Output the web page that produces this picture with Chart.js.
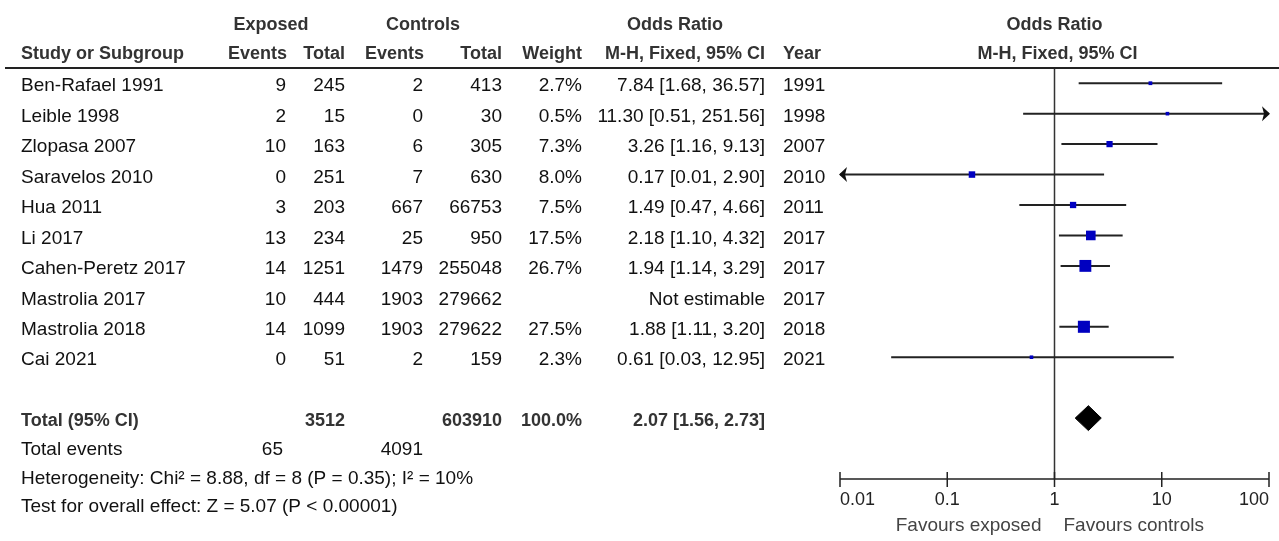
<!DOCTYPE html>
<html>
<head>
<meta charset="utf-8">
<script src="https://cdn.jsdelivr.net/npm/chart.js@4.4.0/dist/chart.umd.min.js"></script>
<style>
  html, body { margin: 0; padding: 0; background: #fff; }
  #wrap { position: relative; width: 1279px; height: 541px; }
</style>
</head>
<body>
<div id="wrap"><canvas id="forestChart" width="1279" height="541"></canvas></div>
<script>
// datos del forest plot
const studies = ['Ben-Rafael 1991', 'Leible 1998', 'Zlopasa 2007', 'Saravelos 2010', 'Hua 2011',
                 'Li 2017', 'Cahen-Peretz 2017', 'Mastrolia 2017', 'Mastrolia 2018', 'Cai 2021'];
const expEvents = [9, 2, 10, 0, 3, 13, 14, 10, 14, 0];
const expTotal = [245, 15, 163, 251, 203, 234, 1251, 444, 1099, 51];
const ctrlEvents = [2, 0, 6, 7, 667, 25, 1479, 1903, 1903, 2];
const ctrlTotal = [413, 30, 305, 630, 66753, 950, 255048, 279662, 279622, 159];
const weights = [2.7, 0.5, 7.3, 8.0, 7.5, 17.5, 26.7, null, 27.5, 2.3];
const oddsRatio = [7.84, 11.30, 3.26, 0.17, 1.49, 2.18, 1.94, null, 1.88, 0.61];
const ciLower = [1.68, 0.51, 1.16, 0.01, 0.47, 1.10, 1.14, null, 1.11, 0.03];
const ciUpper = [36.57, 251.56, 9.13, 2.90, 4.66, 4.32, 3.29, null, 3.20, 12.95];
const years = [1991, 1998, 2007, 2010, 2011, 2017, 2017, 2017, 2018, 2021];

const totalOR = 2.07;
const totalLower = 1.56;
const totalUpper = 2.73;
const totalExp = 3512;
const totalCtrl = 603910;
const totalWeight = 100.0;
const totalEventsExp = 65;
const totalEventsCtrl = 4091;
const heterogeneityText = 'Heterogeneity: Chi² = 8.88, df = 8 (P = 0.35); I² = 10%';
const overallText = 'Test for overall effect: Z = 5.07 (P < 0.00001)';

const xTicks = [0.01, 0.1, 1, 10, 100];

const FONT = '"Liberation Sans", Arial, sans-serif';
const TOTAL_ROW = 11;

function txt(ctx, s, x, y, align, bold, color) {
    ctx.font = bold ? 'bold 18px ' + FONT : '19px ' + FONT;
    ctx.textAlign = align;
    ctx.textBaseline = 'middle';
    ctx.fillStyle = color;
    ctx.fillText(s, x, y);
}

const fmt = v => v.toFixed(2);

// Tabla de la izquierda, cabeceras, eje y flechas
const forestPlugin = {
    id: 'forestPlugin',
    afterDatasetsDraw(chart) {
        const ctx = chart.ctx;
        const xs = chart.scales.x;
        const ys = chart.scales.y;
        const a = chart.chartArea;
        ctx.save();

        // flechas para IC fuera de rango
        ctx.fillStyle = '#111';
        studies.forEach((s, i) => {
            if (oddsRatio[i] == null) return;
            const py = ys.getPixelForValue(i);
            if (ciUpper[i] >= xs.max) {
                const px = xs.getPixelForValue(xs.max);
                ctx.beginPath();
                ctx.moveTo(px + 1, py);
                ctx.lineTo(px - 7, py - 7.5);
                ctx.lineTo(px - 5, py);
                ctx.lineTo(px - 7, py + 7.5);
                ctx.closePath();
                ctx.fill();
            }
            if (ciLower[i] <= xs.min) {
                const px = xs.getPixelForValue(xs.min);
                ctx.beginPath();
                ctx.moveTo(px - 1, py);
                ctx.lineTo(px + 7, py - 7.5);
                ctx.lineTo(px + 5, py);
                ctx.lineTo(px + 7, py + 7.5);
                ctx.closePath();
                ctx.fill();
            }
        });

        // linea de cabecera
        ctx.strokeStyle = '#222';
        ctx.lineWidth = 2;
        ctx.beginPath();
        ctx.moveTo(5, a.top);
        ctx.lineTo(chart.width, a.top);
        ctx.stroke();

        // eje x con marcas
        ctx.lineWidth = 1.5;
        ctx.beginPath();
        ctx.moveTo(a.left, a.bottom);
        ctx.lineTo(a.right, a.bottom);
        xTicks.forEach(v => {
            const px = xs.getPixelForValue(v);
            ctx.moveTo(px, a.bottom - 7);
            ctx.lineTo(px, a.bottom + 8);
        });
        ctx.stroke();
        ctx.restore();
    },
    afterDraw(chart) {
        const ctx = chart.ctx;
        const ys = chart.scales.y;
        const xs = chart.scales.x;
        const rowY = i => ys.getPixelForValue(i) + 3;
        const head = '#333';
        const body = '#111';
        ctx.save();

        // cabeceras
        txt(ctx, 'Exposed', 271, 25, 'center', true, head);
        txt(ctx, 'Controls', 423, 25, 'center', true, head);
        txt(ctx, 'Odds Ratio', 675, 25, 'center', true, head);
        txt(ctx, 'Odds Ratio', xs.getPixelForValue(1), 25, 'center', true, head);
        txt(ctx, 'Study or Subgroup', 21, 54, 'left', true, head);
        txt(ctx, 'Events', 287, 54, 'right', true, head);
        txt(ctx, 'Total', 345, 54, 'right', true, head);
        txt(ctx, 'Events', 424, 54, 'right', true, head);
        txt(ctx, 'Total', 502, 54, 'right', true, head);
        txt(ctx, 'Weight', 582, 54, 'right', true, head);
        txt(ctx, 'M-H, Fixed, 95% CI', 765, 54, 'right', true, head);
        txt(ctx, 'Year', 783, 54, 'left', true, head);
        txt(ctx, 'M-H, Fixed, 95% CI', xs.getPixelForValue(1) + 3, 54, 'center', true, head);

        // filas de estudios
        studies.forEach((s, i) => {
            const y = rowY(i);
            txt(ctx, s, 21, y, 'left', false, body);
            txt(ctx, String(expEvents[i]), 286, y, 'right', false, body);
            txt(ctx, String(expTotal[i]), 345, y, 'right', false, body);
            txt(ctx, String(ctrlEvents[i]), 423, y, 'right', false, body);
            txt(ctx, String(ctrlTotal[i]), 502, y, 'right', false, body);
            if (weights[i] != null) txt(ctx, weights[i].toFixed(1) + '%', 582, y, 'right', false, body);
            const orText = oddsRatio[i] == null ? 'Not estimable'
                : `${fmt(oddsRatio[i])} [${fmt(ciLower[i])}, ${fmt(ciUpper[i])}]`;
            txt(ctx, orText, 765, y, 'right', false, body);
            txt(ctx, String(years[i]), 783, y, 'left', false, body);
        });

        // fila total
        const ty = rowY(TOTAL_ROW);
        txt(ctx, 'Total (95% CI)', 21, ty, 'left', true, head);
        txt(ctx, String(totalExp), 345, ty, 'right', true, head);
        txt(ctx, String(totalCtrl), 502, ty, 'right', true, head);
        txt(ctx, totalWeight.toFixed(1) + '%', 582, ty, 'right', true, head);
        txt(ctx, `${fmt(totalOR)} [${fmt(totalLower)}, ${fmt(totalUpper)}]`, 765, ty, 'right', true, head);

        txt(ctx, 'Total events', 21, 450, 'left', false, body);
        txt(ctx, String(totalEventsExp), 283, 450, 'right', false, body);
        txt(ctx, String(totalEventsCtrl), 423, 450, 'right', false, body);
        txt(ctx, heterogeneityText, 21, 479, 'left', false, body);
        txt(ctx, overallText, 21, 507, 'left', false, body);

        // favours
        const x1 = xs.getPixelForValue(1);
        txt(ctx, 'Favours exposed', x1 - 13, 526, 'right', false, '#444');
        txt(ctx, 'Favours controls', x1 + 9, 526, 'left', false, '#444');
        ctx.restore();
    }
};

// datasets
const datasets = [];

// cuadrados (tamaño según peso)
const estIdx = studies.map((s, i) => i).filter(i => oddsRatio[i] != null);
datasets.push({
    type: 'scatter',
    order: 0,
    data: estIdx.map(i => ({ x: oddsRatio[i], y: i })),
    pointStyle: 'rect',
    pointRadius: estIdx.map(i => Math.max(3.6, 2.3 * Math.sqrt(weights[i])) / Math.SQRT2),
    backgroundColor: '#0000C0',
    borderWidth: 0
});

// intervalos de confianza
estIdx.forEach(i => {
    datasets.push({
        type: 'scatter',
        order: 2,
        showLine: true,
        data: [{ x: ciLower[i], y: i }, { x: ciUpper[i], y: i }],
        borderColor: '#222',
        borderWidth: 2,
        pointRadius: 0
    });
});

// rombo del total
datasets.push({
    type: 'scatter',
    order: 1,
    showLine: true,
    data: [
        { x: totalLower, y: TOTAL_ROW },
        { x: totalOR, y: TOTAL_ROW - 0.41 },
        { x: totalUpper, y: TOTAL_ROW },
        { x: totalOR, y: TOTAL_ROW + 0.41 },
        { x: totalLower, y: TOTAL_ROW }
    ],
    borderColor: '#000',
    borderWidth: 1,
    backgroundColor: '#000',
    fill: 'shape',
    pointRadius: 0
});

// linea vertical en 1
datasets.push({
    type: 'scatter',
    order: 3,
    showLine: true,
    data: [{ x: 1, y: -0.5 }, { x: 1, y: 13 }],
    borderColor: '#333',
    borderWidth: 1.5,
    pointRadius: 0
});

new Chart(document.getElementById('forestChart'), {
    type: 'scatter',
    data: { datasets: datasets },
    plugins: [forestPlugin],
    options: {
        responsive: false,
        animation: false,
        layout: { padding: { left: 840, right: 6, top: 68, bottom: 0 } },
        plugins: {
            legend: { display: false },
            tooltip: { enabled: false }
        },
        scales: {
            x: {
                type: 'logarithmic',
                min: 0.01,
                max: 100,
                afterBuildTicks: s => { s.ticks = xTicks.map(v => ({ value: v })); },
                afterFit: s => { s.height = 62; },
                grid: { display: false, drawTicks: false },
                border: { display: false },
                ticks: {
                    align: 'inner',
                    padding: 10,
                    color: '#222',
                    autoSkip: false,
                    maxRotation: 0,
                    font: { family: FONT, size: 18 },
                    callback: v => String(v)
                }
            },
            y: {
                type: 'linear',
                reverse: true,
                min: -0.5,
                max: 13,
                display: false
            }
        }
    }
});
</script>
</body>
</html>
